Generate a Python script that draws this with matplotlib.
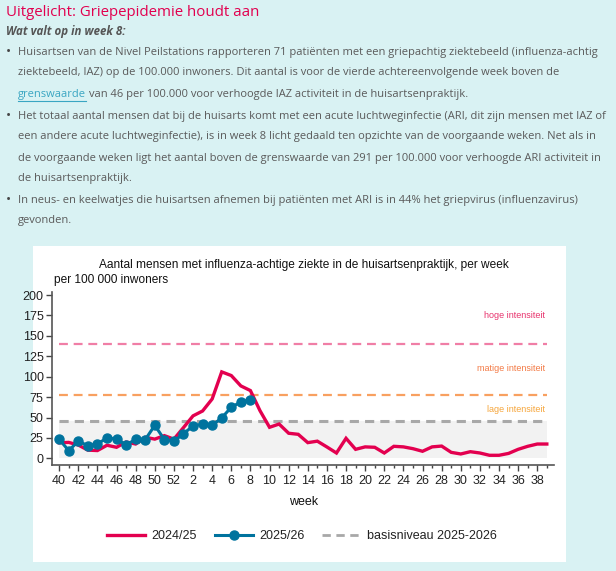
import matplotlib
matplotlib.use("Agg")
import matplotlib.pyplot as plt
from matplotlib.patches import Rectangle
from matplotlib.lines import Line2D

# ---------------- data ----------------
week_labels_all = [str(w) for w in list(range(40, 53)) + list(range(1, 40))]
season_2425 = [19, 19.5, 16.3, 10, 9.5, 16, 13.5, 20, 17.5, 25.8, 23.5, 27.8, 23.5,
               37.6, 52, 58, 72.7, 105.9, 101.4, 88.7, 83, 58.4, 38, 42, 30.7, 29.4,
               19.2, 21, 13.9, 6.5, 24.5, 11, 14, 13.5, 6.5, 14.7, 14, 11.8, 8.6, 14,
               15, 7.3, 5.3, 8.1, 6.5, 3.7, 3.7, 6, 11, 14.7, 17.5, 17.5]
season_2526 = [23.3, 9.4, 21, 15.5, 17.5, 25, 23.7, 16.3, 23.3, 22.9, 40.4, 23, 20.8,
               30.2, 39.6, 42, 40.4, 49.5, 62.6, 69, 71.5]
basisniveau = 46
matige_grens = 78
hoge_grens = 140
yticks = [0, 25, 50, 75, 100, 125, 150, 175, 200]

W, H = 616, 571
fig = plt.figure(figsize=(W / 100, H / 100), dpi=100)
fig.patch.set_facecolor("#d9f2f3")

def fx(x):
    return x / W

def fy(y):
    return 1 - y / H

# white chart box
fig.patches.append(Rectangle((fx(33), fy(562)), fx(566) - fx(33), fy(246) - fy(562),
                             transform=fig.transFigure, facecolor="white",
                             edgecolor="none", zorder=-5))

# ---------------- text block ----------------
txt_font = ["Open Sans", "DejaVu Sans"]
txt_col = "#5a5a5a"
fig.text(fx(6), fy(12), "Uitgelicht: Griepepidemie houdt aan", color="#e2004f",
         fontsize=10.8, family=txt_font, va="center", ha="left")
fig.text(fx(6), fy(32), "Wat valt op in week 8:", color="#555555", fontsize=8.3,
         family=txt_font, fontweight="bold", fontstyle="italic", va="center", ha="left")

lines = [
    (52, True, "Huisartsen van de Nivel Peilstations rapporteren 71 patiënten met een griepachtig ziektebeeld (influenza-achtig"),
    (73, False, "ziektebeeld, IAZ) op de 100.000 inwoners. Dit aantal is voor de vierde achtereenvolgende week boven de"),
    (95, False, None),
    (116, True, "Het totaal aantal mensen dat bij de huisarts komt met een acute luchtweginfectie (ARI, dit zijn mensen met IAZ of"),
    (137, False, "een andere acute luchtweginfectie), is in week 8 licht gedaald ten opzichte van de voorgaande weken. Net als in"),
    (158, False, "de voorgaande weken ligt het aantal boven de grenswaarde van 291 per 100.000 voor verhoogde ARI activiteit in"),
    (179, False, "de huisartsenpraktijk."),
    (200, True, "In neus- en keelwatjes die huisartsen afnemen bij patiënten met ARI is in 44% het griepvirus (influenzavirus)"),
    (221, False, "gevonden."),
]
fs_body = 8.0
for y, bullet, s in lines:
    if bullet:
        fig.text(fx(6), fy(y), "•", color="#444444", fontsize=10, family=txt_font,
                 va="center", ha="left")
    if s is None:
        t1 = fig.text(fx(18), fy(y), "grenswaarde", color="#3aa6c2", fontsize=fs_body,
                      family=txt_font, va="center", ha="left")
        fig.canvas.draw()
        bb = t1.get_window_extent()
        fig.add_artist(Line2D([bb.x0 / W, bb.x1 / W], [fy(y + 6), fy(y + 6)],
                              transform=fig.transFigure, color="#3aa6c2", lw=0.8))
        fig.text(bb.x1 / W + fx(3), fy(y),
                 "van 46 per 100.000 voor verhoogde IAZ activiteit in de huisartsenpraktijk.",
                 color=txt_col, fontsize=fs_body, family=txt_font, va="center", ha="left")
    else:
        fig.text(fx(18), fy(y), s, color=txt_col, fontsize=fs_body, family=txt_font,
                 va="center", ha="left")

# ---------------- chart ----------------
cfont = ["Liberation Sans", "DejaVu Sans"]
ax = fig.add_axes([fx(52), fy(465), fx(554) - fx(52), fy(291) - fy(465)], zorder=2)
ax.set_facecolor("none")
x_all = list(range(len(week_labels_all)))
x_26 = list(range(len(season_2526)))

ax.fill_between([x_all[0], x_all[-1]], [0, 0], [basisniveau, basisniveau],
                color="#f2f2f2", zorder=1, lw=0)
ax.plot([x_all[0], x_all[-1]], [hoge_grens] * 2, color="#f07ea6", lw=1.6,
        dashes=(4, 2.6), zorder=2)
ax.plot([x_all[0], x_all[-1]], [matige_grens] * 2, color="#f8a060", lw=1.6,
        dashes=(4, 2.6), zorder=2)
ax.plot([x_all[0], x_all[-1]], [basisniveau] * 2, color="#a8a8a8", lw=2.2,
        dashes=(3, 2), zorder=2)

ax.plot(x_all, season_2425, color="#e3004f", lw=2.4, zorder=3, solid_joinstyle="miter")
ax.plot(x_26, season_2526, color="#00739e", lw=2.2, marker="o", markersize=6.5,
        zorder=4)

ax.text(50.8, 175, "hoge intensiteit", color="#e8336d", fontsize=6.5, family=cfont,
        ha="right", va="center")
ax.text(50.8, 110, "matige intensiteit", color="#f37a45", fontsize=6.5, family=cfont,
        ha="right", va="center")
ax.text(50.8, 60, "lage intensiteit", color="#f6a63c", fontsize=6.5, family=cfont,
        ha="right", va="center")

ax.set_xlim(-0.75, 51.75)
ax.set_ylim(-8.2, 205)
ax.set_yticks(yticks)
ax.set_yticklabels([str(v) for v in yticks], family=cfont, fontsize=9, color="#222222")
ax.set_xticks(x_all[::2])
ax.set_xticklabels(week_labels_all[::2], family=cfont, fontsize=9, color="#222222")
ax.set_xticks(x_all, minor=True)
ax.tick_params(axis="y", length=4.5, width=1, color="#444444", pad=1.5)
ax.tick_params(axis="x", which="major", length=4, width=1, color="#444444", pad=3.5)
ax.tick_params(axis="x", which="minor", length=2.5, width=1, color="#444444")
for s in ["top", "right"]:
    ax.spines[s].set_visible(False)
for s in ["left", "bottom"]:
    ax.spines[s].set_color("#555555")
    ax.spines[s].set_linewidth(1.2)
ax.spines["left"].set_bounds(-8.2, 204)

fig.text(fx(304), fy(265), "Aantal mensen met influenza-achtige ziekte in de huisartsenpraktijk, per week",
         family=cfont, fontsize=8.6, color="#111111", ha="center", va="center")
fig.text(fx(54), fy(280), "per 100 000 inwoners", family=cfont, fontsize=8.6,
         color="#111111", ha="left", va="center")
fig.text(fx(304), fy(502), "week", family=cfont, fontsize=9, color="#111111",
         ha="center", va="center")

handles = [
    Line2D([], [], color="#e3004f", lw=2.4),
    Line2D([], [], color="#00739e", lw=2.2, marker="o", markersize=6.5),
    Line2D([], [], color="#a8a8a8", lw=2.0, dashes=(3, 2)),
]
leg = fig.legend(handles, ["2024/25", "2025/26", "basisniveau 2025-2026"],
                 loc="center", bbox_to_anchor=(fx(302), fy(536)), ncol=3,
                 frameon=False, prop={"family": cfont, "size": 9},
                 handlelength=3.1, handletextpad=0.5, columnspacing=1.4)
for t in leg.get_texts():
    t.set_color("#222222")

fig.savefig("out.png", dpi=100, facecolor=fig.get_facecolor())
